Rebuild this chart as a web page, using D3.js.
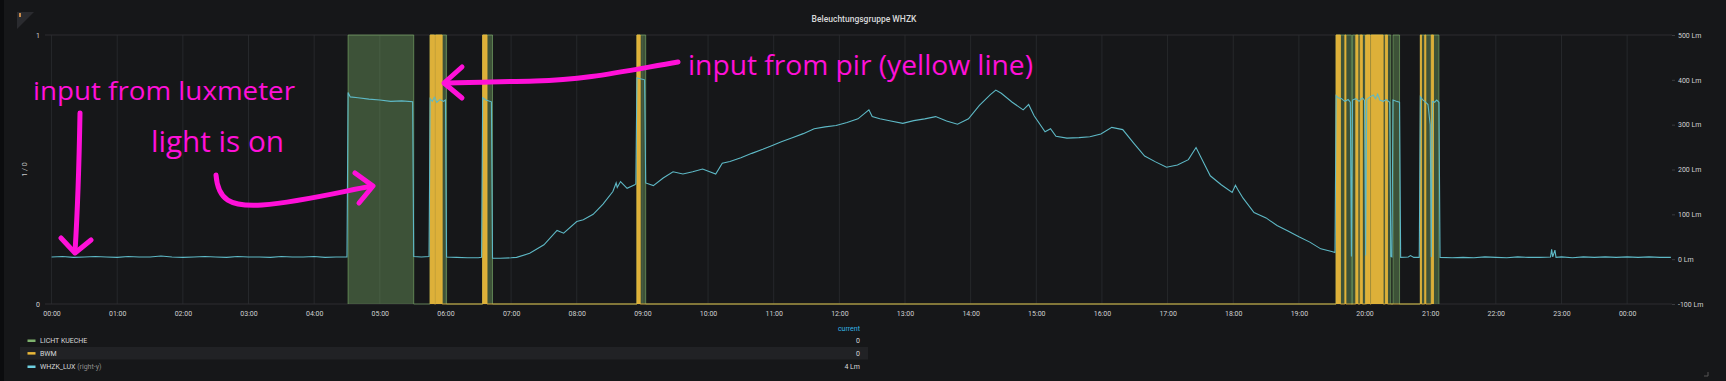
<!DOCTYPE html>
<html><head><meta charset="utf-8">
<script src="https://cdn.jsdelivr.net/npm/d3@7"></script>
<style>html,body{margin:0;padding:0;background:#161719;} svg{display:block}</style>
</head><body><svg id="c" width="1726" height="381"></svg>
<script>
// ---------------- data ----------------
const chartTitle = "Beleuchtungsgruppe WHZK";
const leftAxisLabel = "1 / 0";
const leftTicks = [0, 1];
const rightTicks = [-100, 0, 100, 200, 300, 400, 500];
const seriesNames = ["LICHT KUECHE", "BWM", "WHZK_LUX"];
const seriesCurrent = ["0", "0", "4 Lm"];
const lichtOn = [["04:31","05:31"],["05:46","06:01"],["06:34","06:43"],["08:55","09:03"],
  ["19:34","19:48"],["19:49","20:01"],["20:02","20:24"],["20:26","20:32"],["20:51","21:08"]];
const bwmOn = [["05:46","05:50"],["05:51","05:57"],["06:34","06:38"],["08:55","08:58"],
  ["19:34","19:38"],["19:42","19:43"],["19:52","19:54"],["19:56","19:58"],["20:01","20:05"],
  ["20:06","20:17"],["20:19","20:21"],["20:51","20:52"],["20:55","20:56"],["21:01","21:03"]];
const luxTimes = ["00:00","00:10","00:20","00:30","00:40","00:50","01:00","01:10","01:20","01:30","01:40","01:50",
 "02:00","02:10","02:20","02:30","02:40","02:50","03:00","03:10","03:20","03:30","03:40","03:50","04:00","04:10","04:20","04:30",
 "04:31","04:33","04:40","04:50","05:00","05:10","05:20","05:30","05:31","05:38","05:45",
 "05:46","05:48","05:50","05:52","05:55","05:58","06:00","06:01","06:10","06:20","06:30","06:33",
 "06:34","06:37","06:42","06:43","06:50","07:00","07:05","07:17","07:30","07:42","07:48","08:00","08:06","08:15","08:24",
 "08:33","08:36","08:37","08:40","08:46","08:53","08:54","08:55","09:02","09:03","09:10","09:19","09:28","09:37","09:46","09:55",
 "10:07","10:13","10:20","10:30","10:40","10:50","10:57","11:07","11:17","11:27","11:37","11:47","11:57","12:07","12:17","12:27",
 "12:30","12:37","12:47","12:58","13:08","13:18","13:28","13:38","13:48","13:58","14:08","14:18","14:23","14:28","14:38","14:48",
 "14:53","14:58","15:08","15:13","15:18","15:28","15:39","15:49","15:59","16:09","16:19","16:29","16:39","16:49","16:59","17:09",
 "17:19","17:26","17:34","17:39","17:49","17:59","18:02","18:04","18:09","18:19","18:30","18:40","18:50","19:00","19:10","19:20",
 "19:30","19:33","19:34","19:36","19:39","19:42","19:45","19:47","19:48","19:49","19:52","19:55","19:58","20:00","20:01","20:02",
 "20:05","20:08","20:10","20:12","20:14","20:17","20:20","20:23","20:24","20:25","20:26","20:29","20:32","20:33","20:40","20:42",
 "20:45","20:50","20:51","20:53","20:55","20:58","21:00","21:01","21:02","21:04","21:06","21:08","21:09","21:20","21:30","21:40",
 "21:50","22:00","22:10","22:20","22:30","22:40","22:50","22:51","22:52","22:54","22:55","23:00","23:10","23:20","23:30","23:40",
 "23:50","24:00","24:10","24:20","24:30","24:40"];
const luxValues = [5,6,4,5,6,5,4,6,5,5,7,5,
 4,5,6,5,4,6,5,5,4,6,5,5,6,4,5,5,
 372,362,360,357,355,352,353,351,6,5,6,
 358,352,361,350,356,352,355,5,4,3,3,4,
 360,355,351,2,2,3,4,13,32,64,58,84,88,100,123,
 151,170,160,173,158,166,168,404,400,170,164,181,195,190,195,201,
 190,214,218,226,236,245,252,262,271,280,291,295,298,305,313,333,
 318,313,308,303,309,313,318,308,301,313,343,367,377,370,350,333,
 345,320,284,291,274,270,271,273,279,294,289,259,230,217,205,210,
 222,249,210,186,166,149,165,156,136,104,92,75,63,50,38,23,
 17,15,365,360,358,352,356,350,6,355,358,352,360,354,8,356,
 362,366,358,368,355,352,356,350,6,5,355,352,350,4,5,8,
 4,4,362,356,352,345,300,5,352,350,355,350,4,3,4,3,
 5,4,3,5,4,4,5,22,5,20,4,5,3,5,4,5,
 4,5,4,5,4,4];

// ---------------- helpers ----------------
const base = new Date(2018, 0, 1, 0, 0, 0);
function tm(s){ const [h,m] = s.split(":").map(Number); return d3.timeMinute.offset(base, h*60+m); }
function steps(intervals){
  const pts = [];
  intervals.forEach(([s,e]) => { pts.push({t:tm(s),v:0},{t:tm(s),v:1},{t:tm(e),v:1},{t:tm(e),v:0}); });
  return pts;
}

const svg = d3.select("#c");
const W = 1726, H = 381;
const P = {l:45, r:1672, t:35, b:304};
const font = "Roboto, 'Open Sans', sans-serif";

svg.append("rect").attr("width",W).attr("height",H).attr("fill","#161719");
svg.append("rect").attr("width",4).attr("height",H).attr("fill","#0b0c0e");

const x = d3.scaleTime().domain([d3.timeMinute.offset(base,-6), d3.timeMinute.offset(base,24*60+41)]).range([P.l,P.r]);
const yL = d3.scaleLinear().domain([0,1]).range([P.b,P.t]);
const yR = d3.scaleLinear().domain([-100,500]).range([P.b,P.t]);

// corner triangle
svg.append("path").attr("d","M17,12L34,12L17,29Z").attr("fill","#2a2b2f");
svg.append("rect").attr("x",19).attr("y",13).attr("width",2).attr("height",4).attr("fill","#c98b4a");

// title
svg.append("text").attr("x",864).attr("y",22).attr("text-anchor","middle")
  .attr("font-family",font).attr("font-size",8.5).attr("font-weight",500).attr("fill","#d8d9da").text(chartTitle);

// grid
const hours = d3.timeHour.range(base, d3.timeMinute.offset(base,24*60+1));
svg.append("g").selectAll("line").data(hours).join("line")
  .attr("x1",d=>x(d)).attr("x2",d=>x(d)).attr("y1",P.t).attr("y2",P.b)
  .attr("stroke","#26282b").attr("stroke-width",1);
svg.append("g").selectAll("line").data(leftTicks).join("line")
  .attr("x1",P.l).attr("x2",P.r).attr("y1",d=>yL(d)).attr("y2",d=>yL(d))
  .attr("stroke","#2c2d31").attr("stroke-width",1);

// series
const area = d3.area().x(d=>x(d.t)).y0(yL(0)).y1(d=>yL(d.v));
const line = d3.line().x(d=>x(d.t)).y(d=>yL(d.v));
const gS = svg.append("g");
const lichtPts = steps(lichtOn), bwmPts = steps(bwmOn);
gS.append("path").attr("d",area(lichtPts)).attr("fill","#7EB26D").attr("fill-opacity",0.38);
gS.append("path").attr("d",line(lichtPts)).attr("fill","none").attr("stroke","#7EB26D").attr("stroke-width",1).attr("stroke-opacity",0.6);
gS.append("path").attr("d",area(bwmPts)).attr("fill","#EAB839").attr("fill-opacity",0.92);
gS.append("path").attr("d",line(bwmPts)).attr("fill","none").attr("stroke","#EAB839").attr("stroke-width",1).attr("stroke-opacity",0.8);

const luxData = luxTimes.map((t,i)=>({t:tm(t), v:luxValues[i]}));
gS.append("path").attr("d", d3.line().x(d=>x(d.t)).y(d=>yR(d.v))(luxData))
  .attr("fill","none").attr("stroke","#5eb9c6").attr("stroke-width",1.1);

// axes
const axX = d3.axisBottom(x).tickValues(hours).tickFormat(d3.timeFormat("%H:%M")).tickSize(0).tickPadding(7);
const gx = svg.append("g").attr("transform",`translate(0,${P.b})`).call(axX);
const axL = d3.axisLeft(yL).tickValues(leftTicks).tickFormat(d3.format("d")).tickSize(0).tickPadding(5);
const gl = svg.append("g").attr("transform",`translate(${P.l},0)`).call(axL);
const axR = d3.axisRight(yR).tickValues(rightTicks).tickFormat(d=>d+" Lm").tickSize(3).tickPadding(3);
const gr = svg.append("g").attr("transform",`translate(${P.r},0)`).call(axR);
[gx,gl,gr].forEach(g=>{
  g.select(".domain").remove();
  g.selectAll("text").attr("font-family",font).attr("font-size",7).attr("fill","#d0d1d2");
  g.selectAll("line").attr("stroke","#3a3b3e");
});

svg.append("text").attr("transform",`translate(27,${(P.t+P.b)/2}) rotate(-90)`).attr("text-anchor","middle")
  .attr("font-family",font).attr("font-size",7).attr("fill","#c8c9ca").text(leftAxisLabel);

// legend
const colors = ["#7EB26D","#EAB839","#6ED0E0"];
const rowY = [340.7, 353.3, 366.7];
svg.append("rect").attr("x",20).attr("y",347).attr("width",848).attr("height",12.5).attr("fill","#212225");
svg.append("text").attr("x",860).attr("y",331).attr("text-anchor","end").attr("font-family",font)
  .attr("font-size",7).attr("fill","#33b5e5").text("current");
const lg = svg.append("g").selectAll("g").data(seriesNames).join("g").attr("transform",(d,i)=>`translate(0,${rowY[i]})`);
lg.append("rect").attr("x",27.5).attr("y",-1.2).attr("width",8).attr("height",2.5).attr("fill",(d,i)=>colors[i]);
const lt = lg.append("text").attr("x",40).attr("y",2.5).attr("font-family",font).attr("font-size",7).attr("fill","#d8d9da");
lt.append("tspan").text(d=>d);
lt.filter((d,i)=>i===2).append("tspan").attr("fill","#8e8e8e").text(" (right-y)");
lg.append("text").attr("x",860).attr("y",2.5).attr("text-anchor","end").attr("font-family",font)
  .attr("font-size",7).attr("fill","#d8d9da").text((d,i)=>seriesCurrent[i]);

// resize handle
svg.append("path").attr("d","M1708,372L1708,376L1704,376").attr("fill","none").attr("stroke","#555").attr("stroke-width",1);

// annotations
const mag = "#ff10d8";
const ann = svg.append("g");
function atext(s,x0,yb,size,len){
  ann.append("text").attr("x",x0).attr("y",yb).attr("font-family","'Open Sans', 'Noto Sans', sans-serif")
    .attr("font-size",size).attr("fill",mag).attr("textLength",len).attr("lengthAdjust","spacingAndGlyphs").text(s);
}
atext("input from luxmeter",33,100,26,262);
atext("light is on",151,152,30,133);
atext("input from pir (yellow line)",688,75,27,345);
const ap = (d)=>ann.append("path").attr("d",d).attr("fill","none").attr("stroke",mag).attr("stroke-width",5)
  .attr("stroke-linecap","round").attr("stroke-linejoin","round");
ap("M80,113 C79,170 77,220 75,252");
ap("M61,238 L75,253 L91,240");
ap("M216,175 C218,200 230,207 262,205 C300,202 340,192 372,186");
ap("M355,173 L373,186 L359,203");
ap("M678,62 C620,72 585,80 535,81 C500,82 470,82 445,83");
ap("M462,67 L444,83 L462,98");
</script></body></html>
